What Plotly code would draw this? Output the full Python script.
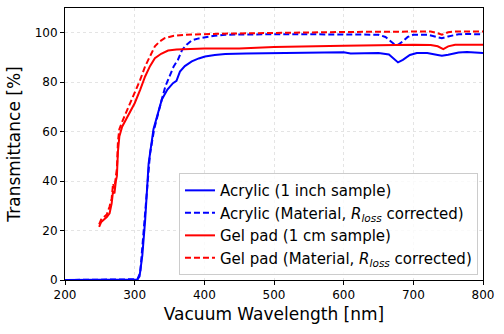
import plotly.graph_objects as go

# wavelength grids [nm] and transmittance [%]
acr_wl = [200, 300, 304, 307, 311, 315, 320, 327, 333, 339, 347, 355, 360, 365, 372,
          382, 392, 401, 415, 430, 460, 500, 550, 600, 610, 620, 650, 665, 672, 678,
          685, 695, 705, 720, 735, 741, 750, 765, 777, 790, 800]
acr = [0, 0, 0.2, 1.5, 10, 24, 47, 61, 67, 73, 77, 79.6, 80.5, 84.3, 86.5,
       88.4, 89.6, 90.4, 91.0, 91.4, 91.6, 91.8, 92.0, 92.1, 91.6, 91.7, 91.8, 91.2, 89.5, 88.0,
       89.0, 91.0, 91.8, 91.8, 91.0, 90.7, 91.1, 92.0, 92.2, 92.0, 91.8]

acm_wl = [200, 300, 304, 308, 312, 316, 322, 328, 332, 338, 344, 350, 356, 362, 368,
          375, 382, 392, 401, 415, 430, 500, 600, 650, 660, 668, 673, 678, 685, 692,
          700, 720, 735, 741, 750, 765, 780, 800]
acm = [0, 0, 0.3, 3, 17, 33, 51, 61, 65, 72, 78.3, 82, 86.4, 89, 93,
       95.3, 96.9, 97.7, 98.2, 98.8, 99.2, 99.4, 99.3, 99.2, 98.3, 96.2, 95.3, 95.1, 96.5, 98.3,
       99.2, 99.2, 98.4, 97.8, 98.5, 99.4, 99.5, 99.3]

gel_wl = [249, 252, 256, 260, 264, 267, 269, 271, 273, 274.5, 276, 278, 282, 290, 300,
          308, 315, 322, 329, 338, 348, 360, 372, 400, 450, 500, 600, 650, 700, 725,
          735, 743, 750, 760, 800]
gel = [21.5, 23.5, 24.5, 25.5, 27, 31, 36, 35, 40, 42, 52, 58, 62, 66, 71.5,
       77, 82.3, 86.5, 89.7, 91.5, 92.8, 93.2, 93.4, 93.6, 93.6, 94.2, 94.7, 95.0, 95.1, 95.0,
       94.5, 93.4, 94.5, 95.1, 95.1]

gem_wl = [249, 252, 256, 260, 264, 267, 269, 271, 273, 274.5, 276, 278, 282, 290, 300,
          308, 315, 322, 329, 336, 343, 355, 372, 420, 500, 600, 650, 700, 725, 735,
          741, 750, 760, 800]
gem = [22.5, 24.5, 25.5, 26.5, 29.7, 33, 39, 37, 42, 45, 56, 61, 64, 69, 75.6,
       81, 86.4, 90.5, 94.5, 96.5, 97.8, 98.7, 99.2, 99.6, 100.0, 100.3, 100.4, 100.5, 100.5, 99.8,
       99.2, 100.2, 100.5, 100.5]

x_ticks = [200, 300, 400, 500, 600, 700, 800]
y_ticks = [0, 20, 40, 60, 80, 100]

rloss = "<i>R</i><sub><i>loss</i></sub>"
series = [
    (acr_wl, acr, "Acrylic (1 inch sample)", "#0000ff", "solid"),
    (acm_wl, acm, "Acrylic (Material, " + rloss + " corrected)", "#0000ff", "6px,3px"),
    (gel_wl, gel, "Gel pad (1 cm sample)", "#ff0000", "solid"),
    (gem_wl, gem, "Gel pad (Material, " + rloss + " corrected)", "#ff0000", "6px,3px"),
]

fig = go.Figure()
for wl, t, name, col, dash in series:
    fig.add_trace(go.Scatter(x=wl, y=t, mode="lines", name=name,
                             line=dict(color=col, width=2, dash=dash)))

axis = dict(showline=True, linecolor="black", linewidth=1, mirror=True,
            ticks="outside", ticklen=4, tickcolor="black",
            showgrid=True, gridcolor="#e4e4e4", griddash="dot", gridwidth=1,
            zeroline=False, tickfont=dict(size=12, color="black"), automargin=False)

fig.update_layout(
    width=504, height=334,
    margin=dict(l=65, r=21, t=8, b=54),
    paper_bgcolor="white", plot_bgcolor="white",
    font=dict(family="DejaVu Sans", color="black"),
    xaxis=dict(axis, range=[200, 800], tickvals=x_ticks,
               title=dict(text="Vacuum Wavelength [nm]", font=dict(size=17), standoff=6)),
    yaxis=dict(axis, range=[0, 110], tickvals=y_ticks,
               title=dict(text="Transmittance [%]", font=dict(size=17), standoff=9)),
    legend=dict(x=0.988, y=0.018, xanchor="right", yanchor="bottom",
                bgcolor="rgba(255,255,255,0.8)", bordercolor="#cccccc", borderwidth=1,
                font=dict(size=15), tracegroupgap=0, itemwidth=30),
)

fig.write_html("out.html", config={"displayModeBar": False},
               post_script="document.body.style.margin='0';")
